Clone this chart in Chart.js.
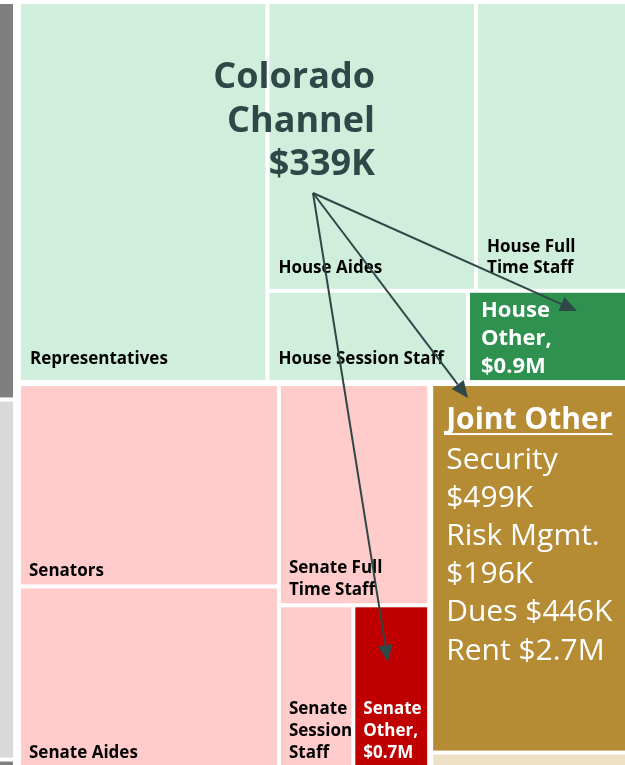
<!DOCTYPE html>
<html lang="en">
<head>
<meta charset="UTF-8" />
<title>Colorado Channel cost split</title>
<style>
  html, body { margin: 0; padding: 0; background: #fff; }
  canvas { display: block; }
</style>
</head>
<body>
<canvas id="treemap" width="625" height="765"></canvas>

<script src="https://cdn.jsdelivr.net/npm/chart.js@4.4.1/dist/chart.umd.min.js"></script>
<script>
// values in $K
const grayValues = [3995, 3620, 85];

const houseLabels = ['Representatives', 'House Aides', 'House Full\nTime Staff', 'House Session Staff', 'House\nOther,\n$0.9M'];
const houseValues = [4788, 3056, 2372, 929, 787];

const senateLabels = ['Senators', 'Senate Aides', 'Senate Full\nTime Staff', 'Senate\nSession\nStaff', 'Senate\nOther,\n$0.7M'];
const senateValues = [2672, 2397, 1689, 615, 627];

const jointLabels = ['Joint Other', ''];
const jointValues = [3890, 163];

const jointItems = ['Security', 'Risk Mgmt.', 'Dues', 'Rent'];
const jointItemValues = [499, 196, 446, 2700];

const channelLabel = ['Colorado', 'Channel'];
const channelValue = 339;

// ---- look ----
const FONT = '"Open Sans", "Noto Sans", sans-serif';
const grayColors = ['#7f7f7f', '#d9d9d9', '#7f7f7f'];
const houseStyle = { fill: '#cfeedc', strong: '#2e9150', padB: 21 };
const senateStyle = { fill: '#ffcbcb', strong: '#c00000', padB: 13 };
const jointColors = ['#b58b34', '#ede0c4'];
const noteColor = '#2f4747';

// whole treemap frame in axis units (part of it falls outside the view)
const frameX = [-183, 640];
const frameY = [0, 770];

// annotation, in axis units
const arrowFrom = [313, 193];
const arrowTo = [[577, 311], [468, 398], [388, 662]];

const sum = a => a.reduce((s, v) => s + v, 0);
const fmt = v => v >= 1000 ? '$' + (v / 1000).toFixed(1) + 'M' : '$' + v + 'K';

function slice(r, vals, dir) {
  const tot = sum(vals);
  let acc = 0;
  return vals.map(v => {
    const a = acc / tot, b = (acc + v) / tot;
    acc += v;
    if (dir === 'h') {
      const w = r.x1 - r.x0;
      return { x0: r.x0 + w * a, x1: r.x0 + w * b, y0: r.y0, y1: r.y1 };
    }
    const h = r.y1 - r.y0;
    return { x0: r.x0, x1: r.x1, y0: r.y0 + h * a, y1: r.y0 + h * b };
  });
}
const inset = (r, d) => ({ x0: r.x0 + d, x1: r.x1 - d, y0: r.y0 + d, y1: r.y1 - d });

function houseCells(r, v) {
  const [rep, rest] = slice(r, [v[0], v[1] + v[2] + v[3] + v[4]], 'h');
  const [top, bot] = slice(rest, [v[1] + v[2], v[3] + v[4]], 'v');
  return [rep, ...slice(top, [v[1], v[2]], 'h'), ...slice(bot, [v[3], v[4]], 'h')];
}
function senateCells(r, v) {
  const [c1, c2] = slice(r, [v[0] + v[1], v[2] + v[3] + v[4]], 'h');
  const [full, bot] = slice(c2, [v[2], v[3] + v[4]], 'v');
  return [...slice(c1, [v[0], v[1]], 'v'), full, ...slice(bot, [v[3], v[4]], 'h')];
}

function layout(chart) {
  const { x, y } = chart.scales;
  const frame = {
    x0: x.getPixelForValue(frameX[0]), x1: x.getPixelForValue(frameX[1]),
    y0: y.getPixelForValue(frameY[0]), y1: y.getPixelForValue(frameY[1])
  };
  const [grayR, mainR] = slice(frame, [sum(grayValues), sum(houseValues) + sum(senateValues) + sum(jointValues)], 'h').map(r => inset(r, 1));
  const [houseR, lowerR] = slice(mainR, [sum(houseValues), sum(senateValues) + sum(jointValues)], 'v');
  const [senateR, jointR] = slice(lowerR, [sum(senateValues), sum(jointValues)], 'h');

  const cells = [];
  slice(inset(grayR, 1), grayValues, 'v').forEach((r, i) =>
    cells.push({ r: inset(r, 2), fill: grayColors[i] }));
  houseCells(inset(houseR, 1), houseValues).forEach((r, i) =>
    cells.push({ r: inset(r, 2), fill: i === 4 ? houseStyle.strong : houseStyle.fill, label: houseLabels[i],
      strong: i === 4, size: i === 4 ? 22 : 17, lh: i === 4 ? 28 : 21, padB: i === 4 ? 13 : houseStyle.padB,
      padX: i === 4 ? 11 : 9 }));
  senateCells(inset(senateR, 1), senateValues).forEach((r, i) =>
    cells.push({ r: inset(r, 2), fill: i === 4 ? senateStyle.strong : senateStyle.fill, label: senateLabels[i],
      strong: i === 4, size: 17, lh: 22, padB: senateStyle.padB, padX: 8 }));
  slice(inset(jointR, 1), jointValues, 'v').forEach((r, i) =>
    cells.push({ r: inset(r, 2), fill: jointColors[i], joint: i === 0 }));
  return cells;
}

function wrap(ctx, text, maxW) {
  const words = text.split(' ');
  const lines = [];
  let cur = '';
  words.forEach(w => {
    const t = cur ? cur + ' ' + w : w;
    if (cur && ctx.measureText(t).width > maxW) { lines.push(cur); cur = w; } else cur = t;
  });
  if (cur) lines.push(cur);
  return lines;
}

const treemapPlugin = {
  id: 'treemapCells',
  beforeDatasetsDraw(chart) {
    const ctx = chart.ctx;
    const area = chart.chartArea;
    const cells = layout(chart);
    ctx.save();
    ctx.beginPath();
    ctx.rect(area.left, area.top, area.right - area.left, area.bottom - area.top);
    ctx.clip();

    cells.forEach(c => {
      ctx.fillStyle = c.fill;
      ctx.fillRect(c.r.x0, c.r.y0, c.r.x1 - c.r.x0, c.r.y1 - c.r.y0);
    });

    ctx.textBaseline = 'middle';
    ctx.textAlign = 'left';
    cells.forEach(c => {
      if (c.label) {
        const lines = c.label.split('\n');
        ctx.font = 'bold ' + c.size + 'px ' + FONT;
        ctx.fillStyle = c.strong ? '#ffffff' : '#000000';
        const last = c.r.y1 - c.padB;
        lines.forEach((ln, i) => ctx.fillText(ln, c.r.x0 + c.padX, last - (lines.length - 1 - i) * c.lh));
      }
      if (c.joint) {
        const left = c.r.x0 + 13;
        let yy = c.r.y0 + 34;
        ctx.fillStyle = '#ffffff';
        ctx.font = 'bold 30px ' + FONT;
        ctx.fillText(jointLabels[0], left, yy);
        const w = ctx.measureText(jointLabels[0]).width;
        ctx.fillRect(left, yy + 13, w, 2);
        ctx.font = '30px ' + FONT;
        const maxW = area.right - left - 2;
        yy += 40;
        jointItems.forEach((name, i) => {
          wrap(ctx, name + ' ' + fmt(jointItemValues[i]), maxW).forEach(ln => {
            ctx.fillText(ln, left, yy);
            yy += 38.2;
          });
        });
      }
    });
    ctx.restore();
  }
};

const notePlugin = {
  id: 'channelNote',
  afterDatasetsDraw(chart) {
    const { ctx } = chart;
    const { x, y } = chart.scales;
    ctx.save();
    ctx.fillStyle = noteColor;
    ctx.strokeStyle = noteColor;
    ctx.font = 'bold 36px ' + FONT;
    ctx.textAlign = 'right';
    ctx.textBaseline = 'middle';
    const lines = [...channelLabel, fmt(channelValue)];
    lines.forEach((ln, i) => ctx.fillText(ln, x.getPixelForValue(375), y.getPixelForValue(78 + i * 43.5)));

    const fx = x.getPixelForValue(arrowFrom[0]), fy = y.getPixelForValue(arrowFrom[1]);
    ctx.lineWidth = 2;
    arrowTo.forEach(t => {
      const tx = x.getPixelForValue(t[0]), ty = y.getPixelForValue(t[1]);
      const ang = Math.atan2(ty - fy, tx - fx);
      const head = 17, half = 7.5;
      const bx = tx - head * Math.cos(ang), by = ty - head * Math.sin(ang);
      ctx.beginPath();
      ctx.moveTo(fx, fy);
      ctx.lineTo(bx, by);
      ctx.stroke();
      ctx.beginPath();
      ctx.moveTo(tx, ty);
      ctx.lineTo(bx + half * Math.sin(ang), by - half * Math.cos(ang));
      ctx.lineTo(bx - half * Math.sin(ang), by + half * Math.cos(ang));
      ctx.closePath();
      ctx.fill();
    });
    ctx.restore();
  }
};

const chart = new Chart(document.getElementById('treemap'), {
  type: 'scatter',
  data: { datasets: [] },
  options: {
    responsive: false,
    animation: false,
    layout: { padding: 0 },
    plugins: { legend: { display: false }, tooltip: { enabled: false } },
    scales: {
      x: { type: 'linear', min: 0, max: 625, display: false },
      y: { type: 'linear', min: 0, max: 765, reverse: true, display: false }
    }
  },
  plugins: [treemapPlugin, notePlugin]
});
</script>
</body>
</html>
